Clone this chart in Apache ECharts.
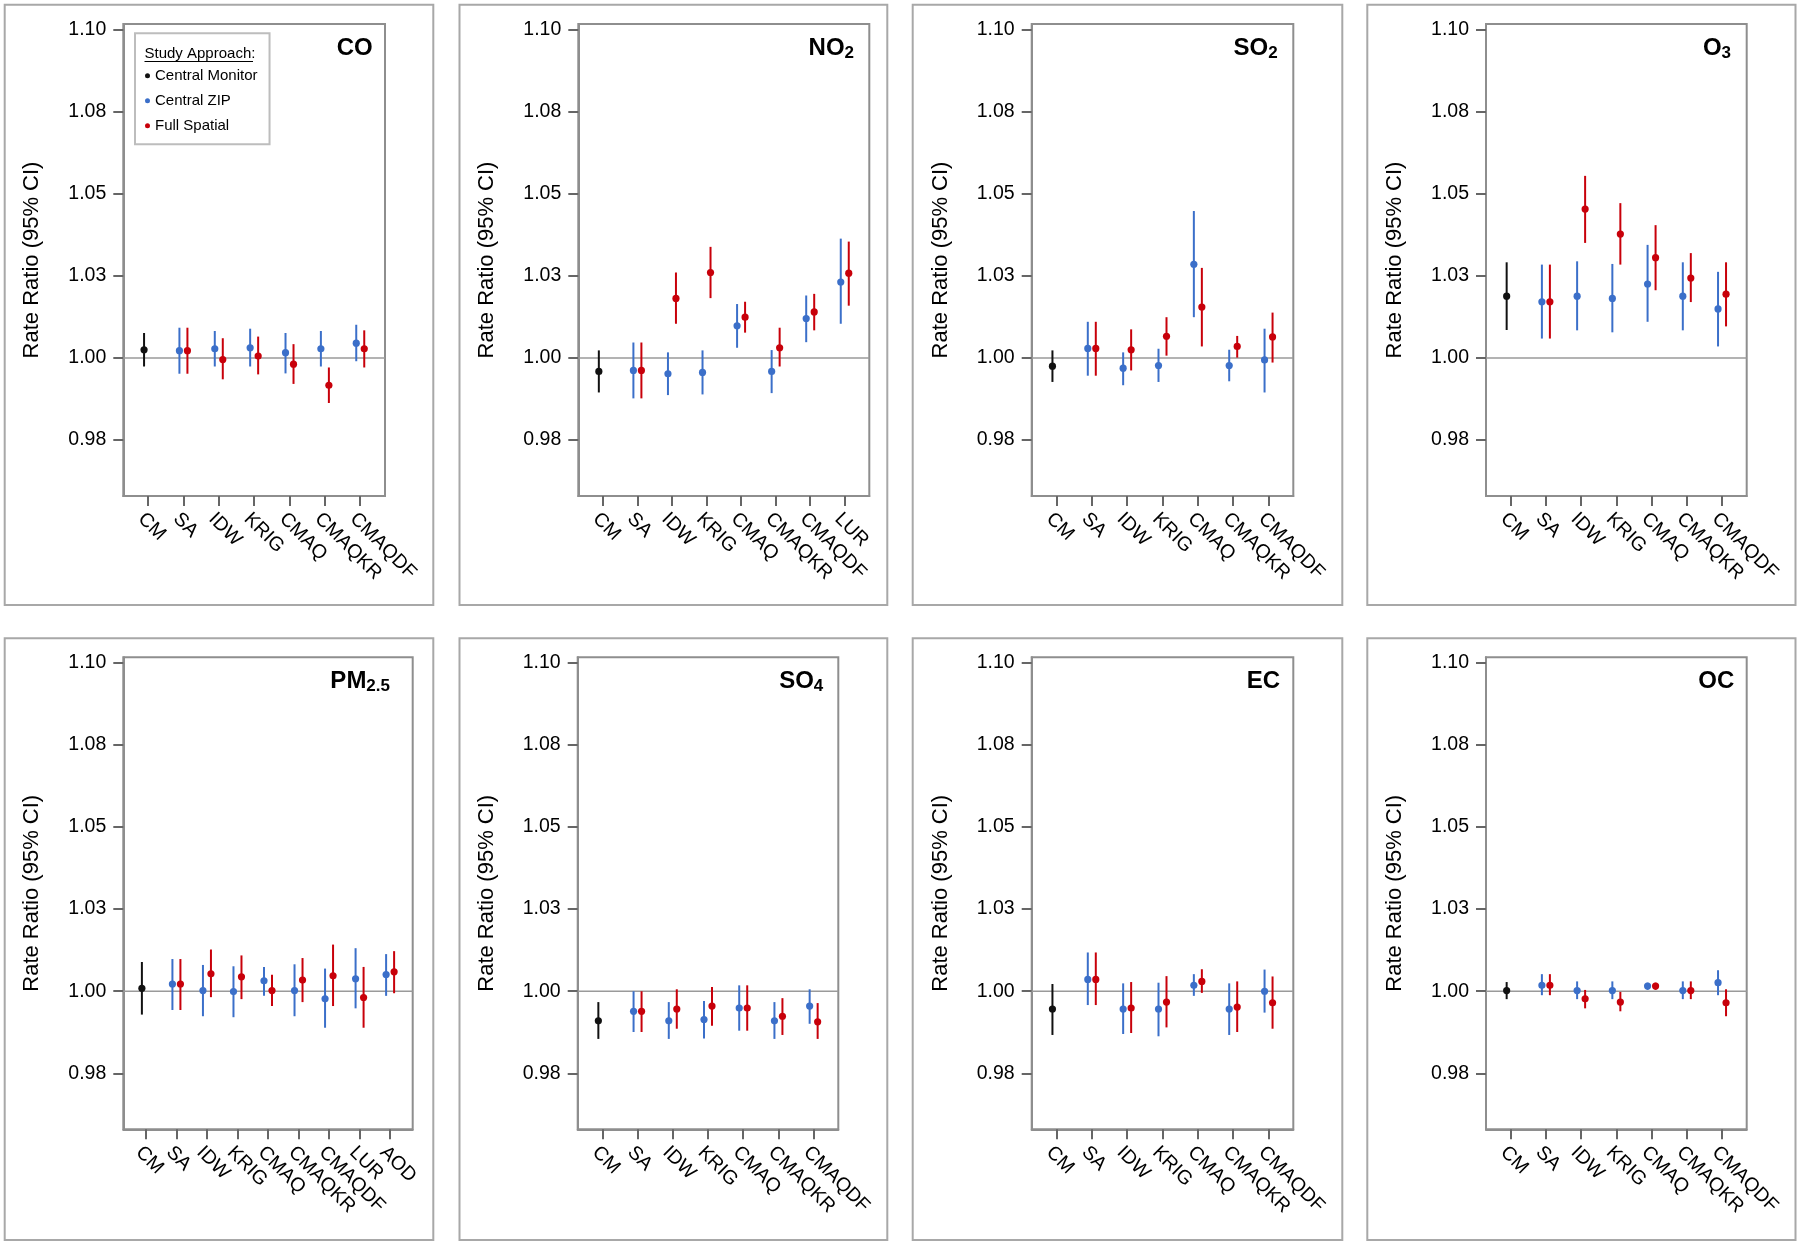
<!DOCTYPE html>
<html>
<head>
<meta charset="utf-8">
<script src="https://cdn.jsdelivr.net/npm/echarts@6/dist/echarts.min.js"></script>
<style>html,body{margin:0;padding:0;background:#fff}#c{width:1800px;height:1245px}</style>
</head>
<body>
<div id="c"></div>
<script>
const FONT = '"Liberation Sans", Arial, Helvetica, sans-serif';

// ---- tick labels / texts ----
const yTickValues = [0.975, 1.0, 1.025, 1.05, 1.075, 1.1];
const yTickLabels = ['0.98', '1.00', '1.03', '1.05', '1.08', '1.10'];
const yAxisTitle = 'Rate Ratio (95% CI)';
const legendTitle = 'Study Approach:';
const seriesNames = ['Central Monitor', 'Central ZIP', 'Full Spatial'];
const refValue = 1.0;

// ---- categories ----
const catsStd = ['CM', 'SA', 'IDW', 'KRIG', 'CMAQ', 'CMAQKR', 'CMAQDF'];
const catsNO2 = ['CM', 'SA', 'IDW', 'KRIG', 'CMAQ', 'CMAQKR', 'CMAQDF', 'LUR'];
const catsPM = ['CM', 'SA', 'IDW', 'KRIG', 'CMAQ', 'CMAQKR', 'CMAQDF', 'LUR', 'AOD'];

// ---- values: [lower, estimate, upper]; ZIP / Full start at category index 1 ----
const coCM = [0.9974, 1.0025, 1.0076];
const coZIP = [[0.9952,1.0022,1.0092],[0.9974,1.0028,1.0082],[0.9974,1.0031,1.0089],[0.9953,1.0016,1.0076],[0.9974,1.0028,1.0082],[0.9990,1.0045,1.0101]];
const coFull = [[0.9952,1.0022,1.0092],[0.9935,0.9995,1.0060],[0.9950,1.0006,1.0065],[0.9921,0.9981,1.0042],[0.9863,0.9917,0.9971],[0.9971,1.0028,1.0084]];

const no2CM = [0.9895, 0.9959, 1.0023];
const no2ZIP = [[0.9877,0.9962,1.0047],[0.9887,0.9952,1.0017],[0.9889,0.9956,1.0023],[1.0031,1.0098,1.0164],[0.9893,0.9959,1.0024],[1.0048,1.0120,1.0190],[1.0104,1.0231,1.0363]];
const no2Full = [[0.9877,0.9962,1.0047],[1.0104,1.0181,1.0260],[1.0182,1.0260,1.0338],[1.0077,1.0124,1.0171],[0.9974,1.0031,1.0092],[1.0084,1.0140,1.0195],[1.0159,1.0258,1.0354]];

const so2CM = [0.9927, 0.9975, 1.0023];
const so2ZIP = [[0.9946,1.0029,1.0110],[0.9917,0.9969,1.0017],[0.9927,0.9977,1.0028],[1.0124,1.0285,1.0447],[0.9929,0.9977,1.0025],[0.9895,0.9994,1.0089]];
const so2Full = [[0.9946,1.0029,1.0110],[0.9962,1.0025,1.0087],[1.0007,1.0066,1.0124],[1.0035,1.0155,1.0274],[1.0001,1.0035,1.0067],[0.9986,1.0064,1.0138]];

const o3CM = [1.0085, 1.0188, 1.0291];
const o3ZIP = [[1.0059,1.0171,1.0284],[1.0084,1.0188,1.0294],[1.0078,1.0181,1.0286],[1.0110,1.0225,1.0344],[1.0084,1.0188,1.0291],[1.0035,1.0149,1.0262]];
const o3Full = [[1.0059,1.0171,1.0284],[1.0350,1.0453,1.0554],[1.0284,1.0377,1.0471],[1.0206,1.0305,1.0404],[1.0170,1.0243,1.0319],[1.0096,1.0194,1.0291]];

const pmCM = [0.9929, 1.0009, 1.0089];
const pmZIP = [[0.9943,1.0022,1.0098],[0.9924,1.0002,1.0080],[0.9921,0.9999,1.0076],[0.9986,1.0032,1.0074],[0.9924,1.0002,1.0082],[0.9889,0.9977,1.0069],[0.9948,1.0038,1.0131],[0.9986,1.0051,1.0113]];
const pmFull = [[0.9943,1.0022,1.0098],[0.9982,1.0053,1.0127],[0.9976,1.0044,1.0109],[0.9955,1.0002,1.0050],[0.9967,1.0034,1.0101],[0.9955,1.0047,1.0142],[0.9889,0.9981,1.0074],[0.9994,1.0059,1.0122]];

const so4CM = [0.9855, 0.9910, 0.9967];
const so4ZIP = [[0.9876,0.9939,1.0000],[0.9855,0.9910,0.9967],[0.9856,0.9914,0.9970],[0.9880,0.9949,1.0018],[0.9855,0.9910,0.9967],[0.9901,0.9955,1.0006]];
const so4Full = [[0.9876,0.9939,1.0000],[0.9886,0.9946,1.0006],[0.9895,0.9955,1.0013],[0.9880,0.9949,1.0018],[0.9867,0.9924,0.9979],[0.9855,0.9907,0.9964]];

const ecCM = [0.9867, 0.9946, 1.0022];
const ecZIP = [[0.9958,1.0036,1.0118],[0.9870,0.9946,1.0024],[0.9863,0.9946,1.0026],[0.9986,1.0018,1.0052],[0.9867,0.9946,1.0024],[0.9935,1.0000,1.0066]];
const ecFull = [[0.9958,1.0036,1.0118],[0.9873,0.9949,1.0028],[0.9890,0.9967,1.0046],[0.9995,1.0030,1.0067],[0.9876,0.9952,1.0030],[0.9886,0.9965,1.0045]];

const ocCM = [0.9976, 1.0002, 1.0028];
const ocZIP = [[0.9988,1.0018,1.0052],[0.9976,1.0002,1.0030],[0.9976,1.0002,1.0030],[1.0004,1.0016,1.0026],[0.9976,1.0002,1.0030],[0.9988,1.0026,1.0064]];
const ocFull = [[0.9988,1.0018,1.0052],[0.9948,0.9977,1.0004],[0.9939,0.9967,0.9998],[1.0004,1.0016,1.0026],[0.9976,1.0002,1.0030],[0.9924,0.9965,1.0006]];

// ---- layout (pixels) ----
const ROW_TOP = [24, 657.3];
const PLOT_H = 472;
const panels = [
  {title:'{m|CO}', cats:catsStd, cm:coCM, zip:coZIP, full:coFull, row:0, left:123.3, width:261.7, tRight:12.3, pad:0.70},
  {title:'{m|NO}{s|2}', cats:catsNO2, cm:no2CM, zip:no2ZIP, full:no2Full, row:0, left:578.3, width:291, tRight:15.3, pad:0.71},
  {title:'{m|SO}{s|2}', cats:catsStd, cm:so2CM, zip:so2ZIP, full:so2Full, row:0, left:1031.7, width:261.6, tRight:15.6, pad:0.70},
  {title:'{m|O}{s|3}', cats:catsStd, cm:o3CM, zip:o3ZIP, full:o3Full, row:0, left:1486, width:260.7, tRight:15.7, pad:0.70},
  {title:'{m|PM}{s|2.5}', cats:catsPM, cm:pmCM, zip:pmZIP, full:pmFull, row:1, left:123.3, width:289.4, tRight:22.7, pad:0.74},
  {title:'{m|SO}{s|4}', cats:catsStd, cm:so4CM, zip:so4ZIP, full:so4Full, row:1, left:577.7, width:260.6, tRight:15, pad:0.70},
  {title:'{m|EC}', cats:catsStd, cm:ecCM, zip:ecZIP, full:ecFull, row:1, left:1031.7, width:261.6, tRight:13.3, pad:0.70},
  {title:'{m|OC}', cats:catsStd, cm:ocCM, zip:ocZIP, full:ocFull, row:1, left:1486, width:260.7, tRight:12.4, pad:0.70}
];
const outerCols = [[4.7, 433.3], [459.5, 887.3], [912.7, 1342.3], [1367.3, 1795.5]];
const outerRows = [[4.7, 605], [638.3, 1240]];

const COLORS = {cm:'#111111', zip:'#3b6fc9', full:'#c8000a'};
const FRAME = '#8e8e8e';
const TICK = '#666666';

function makeRender(dx, r) {
  return function (params, api) {
    const x = api.value(0), lo = api.value(1), est = api.value(2), hi = api.value(3);
    const a = api.coord([x, hi]), b = api.coord([x, lo]), c = api.coord([x, est]);
    const color = api.visual('color');
    return {
      type: 'group',
      children: [
        {type:'line', shape:{x1:a[0]+dx, y1:a[1], x2:b[0]+dx, y2:b[1]}, style:{stroke:color, lineWidth:2}},
        {type:'circle', shape:{cx:c[0]+dx, cy:c[1], r:r}, style:{fill:color, stroke:null}}
      ]
    };
  };
}

const grids = [], xAxes = [], yAxes = [], series = [], titles = [];
panels.forEach((p, i) => {
  const top = ROW_TOP[p.row];
  grids.push({left:p.left, top:top, width:p.width, height:PLOT_H, show:true,
    borderColor:FRAME, borderWidth:2});
  const n = p.cats.length;
  const idx = p.cats.map((_, k) => k);
  const xMin = -p.pad, xMax = n - 1 + p.pad;
  xAxes.push({type:'value', gridIndex:i, min:xMin, max:xMax,
    axisLine:{show:true, onZero:false, lineStyle:{color:FRAME, width:2}}, splitLine:{show:false},
    axisTick:{show:true, length:10, customValues:idx, lineStyle:{color:TICK, width:2}},
    axisLabel:{customValues:idx, rotate:-45, align:'left', verticalAlign:'top', margin:13,
      fontSize:19.5, color:'#000', fontFamily:FONT,
      formatter:(v) => p.cats[Math.round(v)]}
  });
  yAxes.push({type:'value', gridIndex:i, min:0.958, max:1.1016,
    axisLine:{show:true, onZero:false, lineStyle:{color:FRAME, width:2}}, splitLine:{show:false},
    axisTick:{show:true, length:10, customValues:yTickValues, lineStyle:{color:TICK, width:2}},
    axisLabel:{customValues:yTickValues, margin:17, fontSize:19.5, color:'#000', fontFamily:FONT,
      formatter:(v) => { let best = 0; yTickValues.forEach((t, k) => { if (Math.abs(t - v) < Math.abs(yTickValues[best] - v)) best = k; }); return yTickLabels[best]; }},
    name:yAxisTitle, nameLocation:'middle', nameGap:80,
    nameTextStyle:{fontSize:22, color:'#000', fontFamily:FONT}
  });
  // reference line at 1.00
  series.push({type:'line', xAxisIndex:i, yAxisIndex:i, data:[[xMin, refValue], [xMax, refValue]],
    symbol:'none', silent:true, z:1, lineStyle:{color:'#9a9a9a', width:1.5}, tooltip:{show:false}, legendHoverLink:false});
  series.push({type:'custom', name:seriesNames[0], xAxisIndex:i, yAxisIndex:i, z:3,
    itemStyle:{color:COLORS.cm}, renderItem:makeRender(-4, 3.6),
    data:[[0, p.cm[0], p.cm[1], p.cm[2]]]});
  series.push({type:'custom', name:seriesNames[1], xAxisIndex:i, yAxisIndex:i, z:3,
    itemStyle:{color:COLORS.zip}, renderItem:makeRender(-4, 3.6),
    data:p.zip.map((d, k) => [k + 1, d[0], d[1], d[2]])});
  series.push({type:'custom', name:seriesNames[2], xAxisIndex:i, yAxisIndex:i, z:3,
    itemStyle:{color:COLORS.full}, renderItem:makeRender(4, 3.6),
    data:p.full.map((d, k) => [k + 1, d[0], d[1], d[2]])});
  titles.push({text:p.title, right:1800 - (p.left + p.width) + p.tRight, top:top + 10, padding:0,
    textStyle:{fontFamily:FONT, rich:{
      m:{fontSize:24, fontWeight:'bold', color:'#000', lineHeight:28, fontFamily:FONT},
      s:{fontSize:17, fontWeight:'bold', color:'#000', lineHeight:19, verticalAlign:'bottom', fontFamily:FONT}
    }}});
});

const graphics = [];
outerRows.forEach(r => outerCols.forEach(c => {
  graphics.push({type:'rect', silent:true, z:-10,
    shape:{x:c[0], y:r[0], width:c[1]-c[0], height:r[1]-r[0]},
    style:{fill:null, stroke:'#a8a8a8', lineWidth:2}});
}));
graphics.push({type:'text', silent:true, z:100, x:144.5, y:54,
  style:{text:legendTitle, fontSize:15, fontFamily:FONT, fill:'#000', verticalAlign:'middle'}});
graphics.push({type:'line', silent:true, z:100,
  shape:{x1:144.5, y1:61.5, x2:253, y2:61.5}, style:{stroke:'#000', lineWidth:1}});

const option = {
  animation:false,
  backgroundColor:'#fff',
  textStyle:{fontFamily:FONT},
  title:titles,
  grid:grids,
  xAxis:xAxes,
  yAxis:yAxes,
  legend:{
    show:true, orient:'vertical', left:135, top:33.3,
    padding:[35, 12, 11, 10], itemGap:10, itemWidth:5, itemHeight:14,
    borderColor:'#bdbdbd', borderWidth:2, backgroundColor:'#fff',
    selectedMode:false,
    textStyle:{fontSize:15, color:'#000', fontFamily:FONT},
    data:[
      {name:seriesNames[0], icon:'circle', itemStyle:{color:COLORS.cm}},
      {name:seriesNames[1], icon:'circle', itemStyle:{color:COLORS.zip}},
      {name:seriesNames[2], icon:'circle', itemStyle:{color:COLORS.full}}
    ]
  },
  graphic:graphics,
  series:series
};

const chart = echarts.init(document.getElementById('c'), null, {renderer:'canvas'});
chart.setOption(option);
</script>
</body>
</html>
